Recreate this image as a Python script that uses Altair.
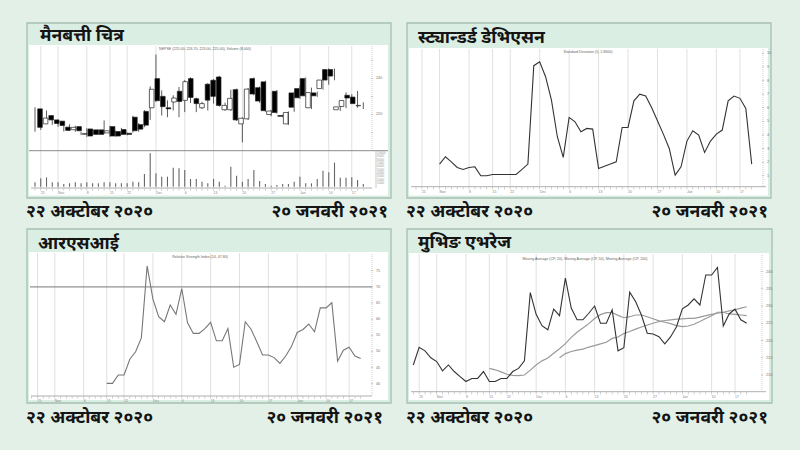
import altair as alt
import pandas as pd

# ---------------- data ----------------
N = 58
day = list(range(N))

opens = [223.1, 214.8, 219.4, 217.0, 216.3, 213.0, 211.6, 213.3, 209.0, 212.0,
         211.5, 211.5, 209.8, 213.3, 210.6, 211.7, 209.6, 218.5, 214.4, 221.7,
         223.7, 239.8, 230.0, 223.7, 226.9, 232.8, 227.8, 239.8, 228.7, 223.7,
         236.7, 238.9, 240.7, 222.6, 222.6, 233.7, 214.8, 217.6, 239.8, 234.8,
         238.0, 220.0, 232.8, 219.4, 214.8, 231.9, 234.3, 239.8, 223.7, 231.9,
         234.3, 244.8, 244.8, 222.6, 224.4, 230.6, 229.6, 224.8]
closes = [212.9, 218.0, 217.0, 215.0, 213.9, 211.2, 212.9, 211.0, 209.5, 208.1,
          209.0, 209.0, 211.0, 208.1, 208.1, 209.0, 209.0, 211.0, 211.9, 214.1,
          233.9, 227.6, 224.3, 223.1, 229.1, 227.2, 238.1, 229.4, 226.0, 226.0,
          227.9, 230.0, 225.0, 225.0, 228.9, 217.0, 217.9, 234.0, 231.3, 227.4,
          222.1, 221.9, 221.1, 219.0, 221.1, 224.0, 229.2, 230.3, 232.1, 230.3,
          239.0, 239.0, 241.2, 224.2, 227.7, 229.1, 226.0, 225.0]
highs = [224.0, 220.5, 222.2, 217.8, 216.8, 213.6, 214.6, 213.8, 210.4, 212.4,
         211.9, 211.8, 216.7, 213.7, 211.0, 212.6, 210.0, 219.3, 215.2, 222.4,
         235.5, 253.1, 233.3, 227.8, 230.6, 235.2, 239.0, 240.5, 229.3, 227.0,
         237.3, 239.5, 241.3, 226.5, 233.7, 234.3, 218.5, 234.6, 240.4, 235.4,
         238.6, 222.5, 233.5, 219.9, 221.7, 232.6, 236.0, 240.4, 234.8, 232.6,
         239.6, 245.4, 245.3, 224.8, 232.2, 231.2, 233.0, 226.7]
lows = [210.5, 211.5, 216.0, 214.2, 213.2, 210.6, 211.0, 210.4, 208.6, 207.6,
        208.6, 208.7, 209.3, 207.7, 207.7, 208.6, 208.5, 210.0, 210.5, 213.0,
        217.0, 227.0, 219.4, 218.5, 222.2, 218.5, 221.3, 226.3, 221.3, 223.0,
        222.2, 226.0, 224.3, 222.0, 222.0, 216.4, 204.6, 217.0, 230.6, 226.4,
        221.5, 219.0, 220.5, 218.5, 214.2, 221.5, 228.6, 229.6, 223.0, 229.7,
        233.7, 236.4, 238.9, 222.0, 223.5, 228.5, 223.7, 223.0]
volumes = [13000, 25000, 28000, 13000, 13000, 8000, 10000, 13000, 10000, 13000,
           10000, 10000, 13000, 13000, 10000, 10000, 10000, 15000, 13000, 38000,
           100000, 40000, 30000, 30000, 57000, 55000, 50000, 23000, 23000, 15000,
           10000, 23000, 15000, 3000, 60000, 33000, 15000, 23000, 50000, 17000,
           8000, 3000, 5000, 8000, 8000, 15000, 30000, 10000, 10000, 23000,
           48000, 43000, 72000, 27000, 27000, 28000, 20000, 8000]

sd_first = 4
sd_values = [1.86, 2.40, 2.03, 1.61, 1.47, 1.61, 1.66, 1.00, 1.00, 1.10,
             1.10, 1.10, 1.10, 1.10, 1.47, 1.86, 9.09, 9.38, 8.28, 6.56,
             3.87, 2.35, 5.29, 4.97, 4.24, 4.48, 4.43, 1.54, 1.71, 1.86,
             2.03, 4.55, 4.55, 6.51, 7.00, 6.86, 6.02, 5.04, 4.06, 3.01,
             1.05, 1.66, 3.55, 4.31, 3.99, 2.72, 3.55, 4.06, 4.36, 6.51,
             6.86, 6.69, 5.95, 1.86]

rsi_first = 13
rsi_values = [40.1, 40.1, 42.7, 42.7, 47.6, 49.9, 54.2, 76.5, 66.2, 60.8,
              59.2, 64.4, 61.5, 69.5, 58.9, 55.6, 55.6, 57.1, 59.0, 53.3,
              53.3, 57.1, 45.1, 46.0, 59.2, 56.9, 53.0, 48.9, 48.9, 48.1,
              46.3, 48.6, 51.5, 55.9, 56.8, 58.5, 56.1, 63.5, 63.5, 65.1,
              47.0, 50.4, 51.3, 48.6, 47.8]
rsi_level = [70]

ma_fast_first = 13
ma_fast = [211.9, 211.5, 210.9, 210.2, 209.9, 209.8, 210.0, 211.4, 212.9, 214.1,
           214.9, 216.3, 217.6, 219.1, 220.9, 222.4, 223.6, 224.9, 226.4, 227.5,
           228.1, 228.1, 227.3, 226.6, 226.9, 227.4, 227.4, 226.9, 226.3, 225.7,
           225.3, 224.9, 224.3, 224.0, 224.2, 224.7, 225.5, 226.4, 227.2, 228.2,
           228.2, 227.7, 227.6, 227.4, 227.2]
ma_slow_first = 25
ma_slow = [215.0, 216.2, 216.8, 217.2, 217.5, 218.1, 218.5, 219.0, 219.5, 220.6,
           221.0, 222.0, 222.6, 223.3, 223.9, 224.5, 225.0, 225.5, 225.8, 226.0,
           226.2, 226.3, 226.4, 226.4, 226.8, 227.2, 227.6, 227.9, 228.2, 228.6,
           228.9, 229.4, 229.8]

price_ticks = [250, 240, 230, 220, 210]
price_tick_labels = ["", "240", "", "220", ""]
volume_ticks = [10000, 20000, 30000, 40000, 50000, 60000, 70000, 80000, 90000, 100000]
sd_ticks = [1, 2, 3, 4, 5, 6, 7, 8, 9, 10]
rsi_ticks = [75, 70, 65, 60, 55, 50, 45, 40]
ma_ticks = [240, 235, 230, 225, 220, 215, 210]
grid_days = [1, 4, 9, 13, 16, 21, 26, 31, 36, 41, 46, 51, 55]
grid_labels = ["25", "Nov", "8", "15", "22", "Dec", "6", "13", "20", "27", "Jan", "10", "17"]

panel_titles = ["मैनबत्ती चित्र", "स्ट्यान्डर्ड डेभिएसन", "आरएसआई", "मुभिङ एभरेज"]
inner_titles = ["NEPSE (225.00, 226.70, 223.00, 225.00), Volume (8,000)",
                "Standard Deviation (5, 1.8600)",
                "Relative Strength Index (14, 47.80)",
                "Moving Average (CP, 20), Moving Average (CP, 50), Moving Average (CP, 200)"]
date_from = "२२ अक्टोबर २०२०"
date_to = "२० जनवरी २०२१"

# ---------------- styling / layout ----------------
BG = "#e2f0e8"
BAND = "#dbeee4"
BORDER = "#a6bfb2"
GRID = "#e0e0e0"
FONT = "Noto Sans Devanagari, Lohit Devanagari, Mukta, Noto Sans, sans-serif"
BIG = 17.6

one = pd.DataFrame({"k": [0]})


def S(domain, rng):
    return alt.Scale(domain=domain, range=rng, nice=False, zero=False)


def vrule(x, y0, y1, color, width=1.0, dash=None):
    kw = dict(color=color, strokeWidth=width)
    if dash:
        kw["strokeDash"] = dash
    return alt.Chart(one).mark_rule(**kw).encode(
        x=alt.value(x), y=alt.value(y0), y2=alt.value(y1))


def hrule(x0, x1, y, color, width=1.0):
    return alt.Chart(one).mark_rule(color=color, strokeWidth=width).encode(
        x=alt.value(x0), x2=alt.value(x1), y=alt.value(y))


layers = []

# panel boxes (title band colour) and white plot areas
boxes = pd.DataFrame({
    "x0": [27, 407, 27, 407], "x1": [391, 771, 391, 772],
    "y0": [23, 23, 229, 229], "y1": [198, 198, 403, 403]})
plots = pd.DataFrame({
    "x0": [29, 409, 29, 409], "x1": [388, 768, 388, 769],
    "y0": [45, 48, 252, 253], "y1": [195.5, 195.5, 400, 400]})
layers.append(alt.Chart(boxes).mark_rect(fill=BAND, stroke=BORDER, strokeWidth=1.3).encode(
    x=alt.X("x0:Q", scale=None, axis=None), x2="x1:Q",
    y=alt.Y("y0:Q", scale=None, axis=None), y2="y1:Q"))
layers.append(alt.Chart(plots).mark_rect(fill="white").encode(
    x=alt.X("x0:Q", scale=None, axis=None), x2="x1:Q",
    y=alt.Y("y0:Q", scale=None, axis=None), y2="y1:Q"))

grid_df = pd.DataFrame({"day": grid_days, "lab": grid_labels})
days_df = pd.DataFrame({"day": day})


def grid_and_xaxis(xs, top, bottom, x0, x1):
    out = []
    out.append(alt.Chart(grid_df).mark_rule(color=GRID, strokeWidth=1).encode(
        x=alt.X("day:Q", scale=xs, axis=None), y=alt.value(top), y2=alt.value(bottom)))
    out.append(hrule(x0, x1, bottom, "#9a9a9a", 0.8))
    out.append(alt.Chart(days_df).mark_tick(color="#9a9a9a", size=2.5, thickness=0.6).encode(
        x=alt.X("day:Q", scale=xs, axis=None), y=alt.value(bottom + 1.5)))
    out.append(alt.Chart(grid_df).mark_text(fontSize=3.5, color="#888", align="left", baseline="top").encode(
        x=alt.X("day:Q", scale=xs, axis=None), y=alt.value(bottom + 3), text="lab:N"))
    return out


def yaxis(ticks, labels, ys, ax, top, bottom):
    df = pd.DataFrame({"v": ticks, "lab": labels})
    out = [vrule(ax, top, bottom, "#c4c4c4", 0.8, [1, 1])]
    out.append(alt.Chart(df).mark_tick(color="#999", size=2.5, thickness=0.6, orient="horizontal").encode(
        y=alt.Y("v:Q", scale=ys, axis=None), x=alt.value(ax)))
    out.append(alt.Chart(df).mark_text(fontSize=3.8, color="#777", align="left", baseline="middle").encode(
        y=alt.Y("v:Q", scale=ys, axis=None), x=alt.value(ax + 4), text="lab:N"))
    return out


# ---------- panel 1: candlesticks + volume ----------
xs1 = S([0, 57], [35, 363.3])
ys1 = S([200, 257.8], [150.7, 46])
vs1 = S([0, 100000], [186.7, 153.3])
ohlc = pd.DataFrame({"day": day, "open": opens, "high": highs, "low": lows,
                     "close": closes, "volume": volumes})
layers += grid_and_xaxis(xs1, 46, 188, 31, 372)
layers.append(hrule(29, 388, 150.7, "#8a8a8a", 1.0))
layers += yaxis(price_ticks, price_tick_labels, ys1, 372, 46, 150)
layers.append(alt.Chart(pd.DataFrame({"v": volume_ticks})).mark_text(
    fontSize=2.6, color="#999", align="left", baseline="middle").encode(
    y=alt.Y("v:Q", scale=vs1, axis=None), x=alt.value(377), text=alt.Text("v:Q", format="d")))
layers.append(vrule(376, 151, 188, "#bbbbbb", 0.8))
layers.append(alt.Chart(ohlc).mark_rule(color="#333", strokeWidth=0.8).encode(
    x=alt.X("day:Q", scale=xs1, axis=None),
    y=alt.Y("low:Q", scale=ys1, axis=None), y2="high:Q"))
layers.append(alt.Chart(ohlc).mark_bar(size=4.6, stroke="#222", strokeWidth=0.7).encode(
    x=alt.X("day:Q", scale=xs1, axis=None),
    y=alt.Y("open:Q", scale=ys1, axis=None), y2="close:Q",
    fill=alt.condition("datum.close >= datum.open", alt.value("white"), alt.value("black"))))
layers.append(alt.Chart(ohlc).mark_rule(color="#666", strokeWidth=1.1).encode(
    x=alt.X("day:Q", scale=xs1, axis=None),
    y=alt.Y("volume:Q", scale=vs1, axis=None), y2=alt.datum(0)))

# ---------- panel 2: standard deviation ----------
xs2 = S([0, 57], [416, 751.7])
ys2 = S([0.2, 10.3], [186.7, 49.2])
sd_df = pd.DataFrame({"day": list(range(sd_first, sd_first + len(sd_values))), "v": sd_values})
layers += grid_and_xaxis(xs2, 49, 186.7, 411, 766)
layers += yaxis(sd_ticks, [str(t) for t in sd_ticks], ys2, 763, 49, 186)
layers.append(alt.Chart(sd_df).mark_line(color="#333", strokeWidth=1.1).encode(
    x=alt.X("day:Q", scale=xs2, axis=None), y=alt.Y("v:Q", scale=ys2, axis=None)))

# ---------- panel 3: RSI ----------
xs3 = S([0, 57], [31.7, 360.7])
ys3 = S([36.2, 80.2], [396, 254])
rsi_df = pd.DataFrame({"day": list(range(rsi_first, rsi_first + len(rsi_values))), "v": rsi_values})
layers += grid_and_xaxis(xs3, 253, 396, 31, 372)
layers += yaxis(rsi_ticks, [str(t) for t in rsi_ticks], ys3, 372, 254, 396)
layers.append(alt.Chart(pd.DataFrame({"v": rsi_level})).mark_rule(color="#777", strokeWidth=1).encode(
    y=alt.Y("v:Q", scale=ys3, axis=None), x=alt.value(30), x2=alt.value(372)))
layers.append(alt.Chart(rsi_df).mark_line(color="#777", strokeWidth=1.1).encode(
    x=alt.X("day:Q", scale=xs3, axis=None), y=alt.Y("v:Q", scale=ys3, axis=None)))

# ---------- panel 4: moving averages ----------
xs4 = S([0, 57], [413.3, 746.7])
ys4 = S([205.15, 244.8], [391.7, 255])
close_df = pd.DataFrame({"day": day, "v": closes})
fast_df = pd.DataFrame({"day": list(range(ma_fast_first, ma_fast_first + len(ma_fast))), "v": ma_fast})
slow_df = pd.DataFrame({"day": list(range(ma_slow_first, ma_slow_first + len(ma_slow))), "v": ma_slow})
layers += grid_and_xaxis(xs4, 254, 391.7, 411, 766)
layers += yaxis(ma_ticks, [str(t) for t in ma_ticks], ys4, 762, 255, 391)
layers.append(alt.Chart(fast_df).mark_line(color="#9a9a9a", strokeWidth=1.2).encode(
    x=alt.X("day:Q", scale=xs4, axis=None), y=alt.Y("v:Q", scale=ys4, axis=None)))
layers.append(alt.Chart(slow_df).mark_line(color="#9a9a9a", strokeWidth=1.2).encode(
    x=alt.X("day:Q", scale=xs4, axis=None), y=alt.Y("v:Q", scale=ys4, axis=None)))
layers.append(alt.Chart(close_df).mark_line(color="#333", strokeWidth=1.1).encode(
    x=alt.X("day:Q", scale=xs4, axis=None), y=alt.Y("v:Q", scale=ys4, axis=None)))

# ---------- texts ----------
inner_df = pd.DataFrame({"x": [205, 588, 200, 585], "y": [48.5, 52, 256.5, 258.5], "t": inner_titles})
layers.append(alt.Chart(inner_df).mark_text(fontSize=3.6, color="#666", baseline="middle").encode(
    x=alt.X("x:Q", scale=None, axis=None), y=alt.Y("y:Q", scale=None, axis=None), text="t:N"))

title_df = pd.DataFrame({"x": [40, 418, 38, 418], "y": [36, 38, 244, 243], "t": panel_titles})
layers.append(alt.Chart(title_df).mark_text(font=FONT, fontSize=BIG, fontWeight="bold", color="#141414",
                                            align="left", baseline="middle").encode(
    x=alt.X("x:Q", scale=None, axis=None), y=alt.Y("y:Q", scale=None, axis=None), text="t:N"))

from_df = pd.DataFrame({"x": [26, 406, 26, 406], "y": [212, 212, 418, 418],
                        "t": [date_from] * 4})
to_df = pd.DataFrame({"x": [388, 768, 383, 768], "y": [212, 212, 418, 418],
                      "t": [date_to] * 4})
layers.append(alt.Chart(from_df).mark_text(font=FONT, fontSize=BIG, fontWeight="bold", color="#141414",
                                           align="left", baseline="middle").encode(
    x=alt.X("x:Q", scale=None, axis=None), y=alt.Y("y:Q", scale=None, axis=None), text="t:N"))
layers.append(alt.Chart(to_df).mark_text(font=FONT, fontSize=BIG, fontWeight="bold", color="#141414",
                                         align="right", baseline="middle").encode(
    x=alt.X("x:Q", scale=None, axis=None), y=alt.Y("y:Q", scale=None, axis=None), text="t:N"))

chart = alt.layer(*layers).resolve_scale(x="independent", y="independent").properties(
    width=800, height=450, padding=0, background=BG,
    autosize=alt.AutoSizeParams(type="none"),
).configure_view(strokeWidth=0)

chart.save("out.html", embed_options={"renderer": "svg", "actions": False})
